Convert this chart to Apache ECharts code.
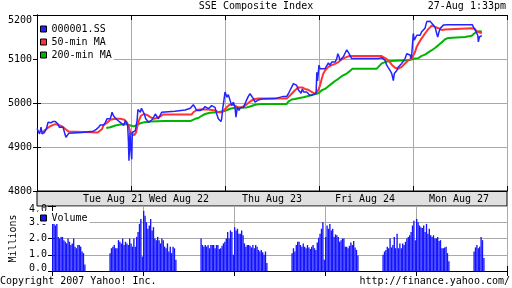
<!DOCTYPE html>
<html><head><meta charset="utf-8">
<script src="https://cdn.jsdelivr.net/npm/echarts@6/dist/echarts.min.js"></script>
<style>html,body{margin:0;padding:0;background:#fff}#c{width:512px;height:288px}</style>
</head><body><div id="c"></div><script>
// x unit: 5-minute trading slot on Yahoo's compressed time axis (65 slots per day, day boundary at lunch)
const dayLabels = ['Tue Aug 21', 'Wed Aug 22', 'Thu Aug 23', 'Fri Aug 24', 'Mon Aug 27'];
const dayLabelSlots = [52.6, 98.2, 162.5, 226.8, 291.8];
const priceTicks = [4800, 4900, 5000, 5100, 5200];
const volTicks = [0, 1, 2, 3, 4];

const price = [[0,4942],[1.1,4945],[1.8,4930],[2.8,4945],[3.5,4930],[4.1,4926],[5.1,4933],[6.5,4941],[7.6,4956],[8.8,4960],[9.7,4955],[11.1,4958],[12.7,4958],[13.8,4959],[14.5,4952],[15.4,4945],[16.6,4941],[18,4945],[19.1,4932],[20,4922],[20.7,4926],[21.9,4931],[23,4933],[31,4933],[31.2,4936],[39,4936],[39.2,4940],[41,4940],[42.6,4945],[43.8,4950],[46.1,4950],[47.3,4956],[48.4,4964],[49.6,4965],[50.7,4964],[51.9,4979],[52.6,4973],[53.5,4968],[54.2,4964],[55.3,4962],[56.5,4964],[57.6,4956],[58.8,4958],[59.9,4949],[61.1,4960],[61.8,4962],[62.7,4949],[63.2,4914],[63.6,4869],[64.3,4933],[65,4891],[65.5,4872],[65.9,4933],[66.8,4929],[68,4937],[69.2,4960],[69.8,4985],[70.5,4987],[71.5,4979],[72.2,4988],[73.3,4985],[74.2,4975],[75.2,4964],[76.1,4960],[77.2,4956],[78.4,4952],[79.5,4962],[80.7,4968],[81.8,4975],[82.8,4971],[83.9,4964],[85.1,4968],[86.2,4979],[87.3,4981],[95.4,4981],[95.6,4984],[102.4,4984],[102.6,4987],[106,4988],[107,4990],[108.1,4996],[109.3,4990],[110.4,4983],[111.6,4981],[112.7,4983],[113.9,4984],[115,4987],[116.2,4992],[117.4,4989],[118.5,4987],[119.6,4983],[120.8,4994],[121.9,4998],[123.1,4990],[124.3,4975],[125.4,4964],[126.6,4960],[127.2,4958],[127.7,4964],[128.4,4987],[129.1,5002],[130,5025],[130.7,5021],[131.4,5013],[132.3,5019],[133.5,5006],[134.6,4994],[135.8,5002],[136.9,4990],[137.6,4968],[138.5,4990],[139.7,4983],[140.6,4990],[141.5,4987],[142.7,4990],[143.8,4998],[145,5007],[146.1,5015],[147.3,5021],[148.5,5017],[149.6,5010],[150.8,5002],[151.9,5004],[153,5007],[155.4,5009],[164.6,5010],[164.8,5013],[170.3,5015],[171.5,5019],[172.7,5015],[173.8,5021],[175,5029],[176.1,5036],[177.3,5044],[178.4,5048],[179.6,5040],[180.7,5030],[181.9,5032],[182.6,5022],[183.5,5032],[184.4,5025],[185.3,5029],[186.5,5025],[187.6,5021],[188.8,5017],[190,5021],[191.1,5019],[192.3,5022],[193,5022],[193.5,5070],[194,5050],[195,5086],[195.7,5078],[196.9,5082],[199.2,5078],[200.3,5080],[201.5,5091],[202.6,5086],[203.8,5093],[204.9,5097],[206.1,5093],[207.3,5101],[208,5112],[208.9,5105],[209.5,5097],[210.7,5099],[211.8,5105],[213,5108],[214.2,5121],[214.9,5124],[215.8,5112],[216.7,5108],[217.6,5101],[218.7,5100],[236,5101],[238.4,5103],[239.5,5102],[240.7,5097],[241.8,5086],[243,5090],[244.1,5074],[245.3,5067],[246.4,5051],[247.1,5067],[248.1,5063],[248.8,5074],[249.9,5082],[251,5086],[252.2,5090],[253.3,5095],[254.5,5101],[255.7,5112],[256.8,5116],[258,5109],[258.6,5101],[259.1,5109],[260.2,5158],[260.9,5143],[261.4,5147],[262.6,5154],[263.7,5150],[264.9,5154],[266,5162],[267.2,5166],[268.3,5170],[269.5,5185],[270.6,5181],[271.8,5186],[273,5181],[274.1,5185],[275.2,5173],[276.4,5158],[277.1,5150],[278,5162],[278.9,5170],[279.9,5168],[281,5177],[282.2,5179],[284,5178],[301,5178],[301.7,5173],[302.9,5166],[304.1,5170],[304.8,5154],[305.2,5139],[305.9,5150],[306.6,5153],[307.6,5153]];

const ma50 = [[3.5,4933],[5.8,4939],[8.1,4945],[10.4,4949],[12.7,4952],[15,4950],[17.3,4947],[19.6,4941],[21.9,4935],[23,4933],[42,4933],[42.6,4937],[45,4941],[46.1,4950],[48.4,4955],[50.7,4962],[54.2,4964],[57.6,4964],[60.4,4962],[62.2,4956],[63.6,4945],[64.5,4933],[65.7,4929],[67.3,4927],[68.5,4933],[69.2,4945],[70.4,4960],[71.9,4971],[73.8,4975],[76.1,4973],[78.4,4968],[80.7,4964],[83,4966],[85.1,4969],[87.3,4974],[107,4974],[108.1,4979],[110.4,4984],[112.7,4985],[118.5,4985],[120.8,4984],[123.1,4983],[125.4,4979],[127.7,4979],[129.1,4983],[130,4987],[132.3,4994],[134.6,4998],[136.9,4994],[139.2,4990],[141.5,4990],[143.8,4994],[146.1,5000],[148.5,5006],[150.8,5009],[153,5010],[172.7,5010],[173.8,5013],[176.1,5021],[178.4,5029],[180.7,5035],[183.7,5035],[185.3,5032],[187.6,5030],[190,5025],[192.3,5021],[193.4,5025],[194.6,5030],[195.7,5040],[196.9,5055],[198,5067],[199.2,5074],[201.5,5082],[203.8,5086],[206.1,5089],[208.4,5093],[210.7,5099],[213,5103],[215.3,5106],[217.6,5107],[238,5107],[240.7,5102],[243,5097],[245.3,5087],[247.6,5080],[249.9,5078],[252.2,5082],[254.5,5090],[256.8,5097],[259.1,5101],[260.2,5105],[261.4,5116],[262.6,5128],[263.7,5135],[266,5147],[268.3,5158],[270.6,5168],[273,5176],[275.2,5173],[277.5,5170],[279.9,5166],[282.2,5167],[300.6,5170],[302.9,5168],[304.1,5163],[305.2,5162],[306.4,5160],[307.6,5158]];

const ma200 = [[47.9,4943],[50.7,4945],[54.2,4949],[57.6,4951],[61.1,4952],[63.4,4950],[64.5,4947],[66.8,4947],[69.2,4950],[71.5,4954],[73.8,4956],[78.4,4958],[88,4959],[106,4959],[107,4961],[109.3,4964],[111.6,4966],[113.9,4971],[116.2,4975],[119.6,4978],[124.3,4979],[129.1,4981],[131.4,4984],[133.5,4987],[136.9,4989],[145,4990],[147.3,4992],[150.8,4996],[155.4,4998],[172.7,4998],[173.8,5003],[176.1,5008],[178.4,5009],[180.7,5011],[184.2,5013],[187.6,5016],[191.1,5019],[194.6,5022],[196.9,5029],[199.2,5032],[201.5,5038],[203.8,5044],[206.1,5050],[208.4,5055],[210.7,5061],[214.2,5067],[216.5,5073],[218.1,5078],[235,5078],[236,5082],[238.4,5090],[240.7,5093],[243,5095],[247.6,5096],[255.7,5097],[259.1,5099],[261.4,5101],[263.7,5102],[266,5107],[268.3,5110],[270.6,5115],[273,5120],[275.2,5125],[277.5,5131],[279.9,5138],[282.2,5145],[284.5,5148],[296,5150],[300.6,5153],[302.3,5158],[304.1,5162],[306.4,5163],[307.6,5162]];

// volume (millions) per 5-minute bar, per trading day
const volAug20pm = [3.1,2.9,2.8,3.3,2.1,2.0,2.1,2.1,1.9,1.8,1.7,2.0,1.8,1.6,1.7,2.0,1.5,1.4,1.6,1.6,1.5,1.2,1.1,0.4];
const volAug21 = [1.1,1.4,1.5,1.6,1.4,1.4,1.9,1.8,1.7,2.0,1.6,1.8,1.7,1.6,2.0,1.7,1.5,2.0,1.5,2.1,2.4,2.9,3.2,0.9,
                  3.7,3.4,3.0,2.6,2.8,3.2,2.5,2.7,2.0,1.9,2.1,1.9,1.7,2.0,1.9,1.5,1.4,1.7,1.2,1.5,1.1,1.5,1.4,0.7];
const volAug22 = [2.0,1.6,1.5,1.6,1.5,1.6,1.4,1.6,1.6,1.6,1.4,1.6,1.6,1.35,1.4,1.55,1.7,1.8,2.0,2.4,2.0,2.5,2.4,1.0,
                  2.7,2.5,2.6,2.3,2.3,2.5,2.2,1.7,1.5,1.6,1.6,1.55,1.45,1.6,1.4,1.6,1.5,1.3,1.2,1.3,1.15,1.0,1.2,0.5];
const volAug23 = [1.1,1.4,1.2,1.6,1.8,1.8,1.6,1.5,1.7,1.5,1.4,1.6,1.45,1.35,1.5,1.6,1.4,1.3,1.75,2.05,2.3,2.6,3.0,0.7,
                  2.1,2.8,2.6,2.9,2.5,2.6,2.1,2.25,2.2,2.1,1.8,1.9,2.0,2.0,1.5,1.5,1.4,1.55,1.75,1.6,1.85,1.45,1.3,0.95];
const volAug24 = [1.0,1.2,1.3,1.5,1.4,2.0,1.45,1.6,2.1,1.4,2.3,1.4,1.7,1.4,1.7,1.6,1.8,2.0,2.1,2.2,2.4,2.8,3.1,1.9,
                  3.2,3.0,2.8,2.7,2.65,2.8,2.4,2.9,2.3,2.6,2.2,2.1,2.2,2.0,2.0,2.1,1.85,1.9,1.4,1.4,1.45,1.5,1.1,0.6];
const volAug27am = [1.2,1.45,1.6,1.4,1.5,2.1,1.9,0.8];

const SLOTS_PER_DAY = 65, DAY_BARS = 48;
function dayBars(dayIndex, firstBar, vals) {
  return vals.map((v, i) => [dayIndex * SLOTS_PER_DAY - DAY_BARS / 2 + firstBar + i + 0.5, v]);
}
const volume = [].concat(
  dayBars(0, 24, volAug20pm), dayBars(1, 0, volAug21), dayBars(2, 0, volAug22),
  dayBars(3, 0, volAug23), dayBars(4, 0, volAug24), dayBars(5, 0, volAug27am));

const FONT = 'DejaVu Sans Mono';
const txt = {fontFamily: FONT, fontSize: 10, color: '#000'};
const GRID_C = '#aaaaaa';
const BLUE = '#2323ff', RED = '#ff3333', GREEN = '#00b400', BAR = '#1414ff';

const chart = echarts.init(document.getElementById('c'), null, {renderer: 'canvas'});
const xBase = {type: 'value', min: 0, max: 325, interval: 65,
  axisLabel: {show: false}, axisLine: {lineStyle: {color: '#000', width: 1}},
  axisTick: {inside: true, length: 5, lineStyle: {color: '#000'}}};
chart.setOption({
  animation: false,
  backgroundColor: '#fff',
  textStyle: txt,
  title: [
    {text: 'SSE Composite Index', left: 'center', top: 1, padding: 0, textStyle: Object.assign({fontWeight: 'normal'}, txt)},
    {text: '27-Aug 1:33pm', right: 6, top: 1, padding: 0, textStyle: Object.assign({fontWeight: 'normal'}, txt)},
    {text: 'Copyright 2007 Yahoo! Inc.', left: 0, top: 276, padding: 0, textStyle: Object.assign({fontWeight: 'normal'}, txt)},
    {text: 'http://finance.yahoo.com/', right: 2, top: 276, padding: 0, textStyle: Object.assign({fontWeight: 'normal'}, txt)}
  ],
  legend: [
    {data: ['000001.SS', '50-min MA', '200-min MA'], orient: 'vertical', left: 38, top: 22,
     itemWidth: 6, itemHeight: 6, itemGap: 3, icon: 'rect', backgroundColor: '#fff', padding: 2,
     selectedMode: false, textStyle: Object.assign({lineHeight: 10}, txt),
     itemStyle: {borderColor: '#000', borderWidth: 1}},
    {data: ['Volume'], orient: 'vertical', left: 38, top: 211,
     itemWidth: 6, itemHeight: 6, icon: 'rect', backgroundColor: '#fff', padding: [2, 2, 1, 2],
     selectedMode: false, textStyle: Object.assign({lineHeight: 10}, txt),
     itemStyle: {borderColor: '#000', borderWidth: 1}}
  ],
  grid: [
    {left: 37, right: 5, top: 15, height: 176},
    {left: 37, right: 5, top: 191, height: 15, show: true, backgroundColor: '#e0e0e0', borderColor: '#000', borderWidth: 1},
    {left: 37, right: 5, top: 206, height: 65}
  ],
  xAxis: [
    Object.assign({}, xBase, {gridIndex: 0, position: 'bottom', splitLine: {show: true, lineStyle: {color: GRID_C}}}),
    Object.assign({}, xBase, {gridIndex: 0, position: 'top', splitLine: {show: false}}),
    {type: 'value', gridIndex: 1, min: 0, max: 325, position: 'bottom',
     axisLine: {show: false}, axisTick: {show: false}, splitLine: {show: false},
     axisLabel: {inside: true, margin: 2, customValues: dayLabelSlots, textStyle: txt,
       formatter: (v) => dayLabels[dayLabelSlots.indexOf(v)] || ''}},
    Object.assign({}, xBase, {gridIndex: 2, position: 'bottom', splitLine: {show: true, lineStyle: {color: GRID_C}}}),
    Object.assign({}, xBase, {gridIndex: 2, position: 'top', splitLine: {show: false}})
  ],
  yAxis: [
    {type: 'value', gridIndex: 0, min: priceTicks[0], max: priceTicks[priceTicks.length - 1], interval: 100,
     axisLine: {show: true, lineStyle: {color: '#000'}}, axisTick: {show: true, inside: true, length: 4, lineStyle: {color: '#000'}},
     splitLine: {lineStyle: {color: GRID_C}},
     axisLabel: Object.assign({margin: 5, formatter: (v) => v === 5200 ? '{t|' + v + '}' : String(v),
       rich: {t: {fontFamily: FONT, fontSize: 10, padding: [10, 0, 0, 0]}}}, txt)},
    {type: 'value', gridIndex: 0, position: 'right', min: 4800, max: 5200, interval: 100,
     axisLine: {show: true, lineStyle: {color: '#000'}}, axisTick: {show: true, inside: true, length: 4, lineStyle: {color: '#000'}},
     splitLine: {show: false}, axisLabel: {show: false}},
    {type: 'value', gridIndex: 1, show: false},
    {type: 'value', gridIndex: 2, min: volTicks[0], max: volTicks[volTicks.length - 1], interval: 1,
     name: 'Millions', nameLocation: 'middle', nameGap: 30, nameRotate: 90, nameTextStyle: txt,
     axisLine: {show: true, lineStyle: {color: '#000'}}, axisTick: {show: true, inside: true, length: 4, lineStyle: {color: '#000'}},
     splitLine: {lineStyle: {color: GRID_C}},
     axisLabel: Object.assign({margin: 5,
       formatter: (v) => v === 4 ? '{t|4.0}' : (v === 0 ? '{b|0.0}' : v.toFixed(1)),
       rich: {t: {fontFamily: FONT, fontSize: 10, padding: [6, 0, 0, 0]}, b: {fontFamily: FONT, fontSize: 10, padding: [0, 0, 6, 0]}}}, txt)},
    {type: 'value', gridIndex: 2, position: 'right', min: 0, max: 4, interval: 1,
     axisLine: {show: true, lineStyle: {color: '#000'}}, axisTick: {show: true, inside: true, length: 4, lineStyle: {color: '#000'}},
     splitLine: {show: false}, axisLabel: {show: false}}
  ],
  series: [
    {name: '200-min MA', type: 'line', xAxisIndex: 0, yAxisIndex: 0, data: ma200, showSymbol: false,
     lineStyle: {color: GREEN, width: 2}, itemStyle: {color: GREEN}},
    {name: '50-min MA', type: 'line', xAxisIndex: 0, yAxisIndex: 0, data: ma50, showSymbol: false,
     lineStyle: {color: RED, width: 2}, itemStyle: {color: RED}},
    {name: '000001.SS', type: 'line', xAxisIndex: 0, yAxisIndex: 0, data: price, showSymbol: false,
     lineStyle: {color: BLUE, width: 1.5}, itemStyle: {color: BLUE}},
    {name: 'Volume', type: 'bar', xAxisIndex: 3, yAxisIndex: 3, data: volume, barWidth: 1.35,
     itemStyle: {color: BAR}}
  ]
});
</script></body></html>
